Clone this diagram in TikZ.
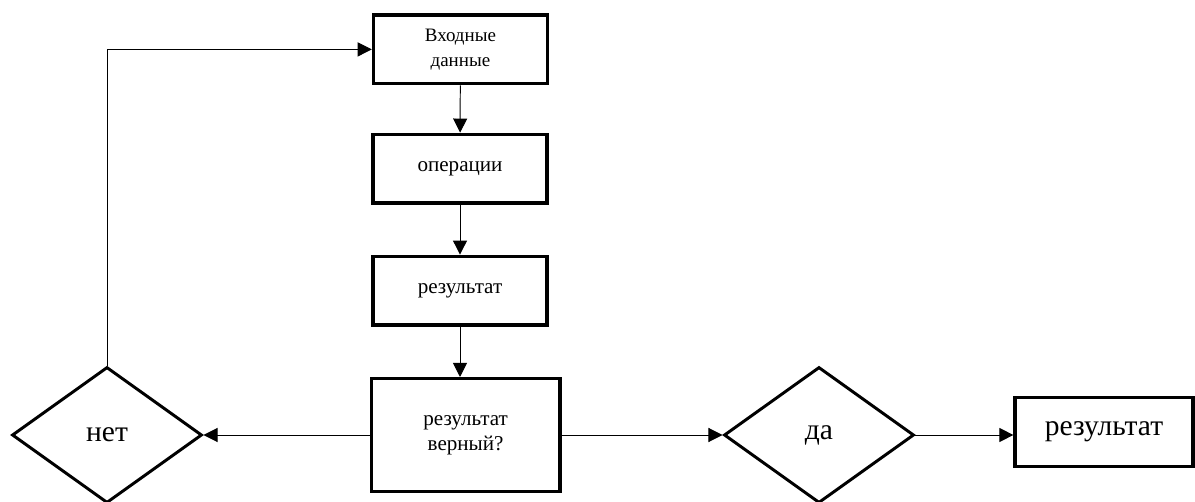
\documentclass[tikz,border=0pt]{standalone}
\usepackage{fontspec}
\setmainfont{Liberation Serif}
\usetikzlibrary{shapes.geometric,arrows.meta}

\begin{document}
\begin{tikzpicture}[
		block/.style={draw,line width=2.3pt,minimum width=4.35cm,minimum height=1.72cm,align=center,inner sep=2pt,font=\fontsize{15}{18}\selectfont},
		decision/.style={draw,diamond,line width=2.1pt,minimum width=4.75cm,minimum height=3.4cm,inner sep=0pt,font=\fontsize{21}{25}\selectfont},
		link/.style={line width=0.7pt,-{Triangle[length=10pt,width=10pt]}}]
		\useasboundingbox (0,0) rectangle (29.875,12.525);
		\node[block,font=\fontsize{13.5}{18}\selectfont] (input) at (11.51,11.29) {Входные\\данные};
		\node[block] (ops) at (11.5,8.31) {операции};
		\node[block] (res) at (11.5,5.26) {результат};
		\node[block,minimum width=4.72cm,minimum height=2.82cm] (check) at (11.64,1.65) {результат\\верный?};
		\node[decision] (no) at (2.675,1.65) {нет};
		\node[decision] (yes) at (20.475,1.65) {да};
		\node[block,minimum width=4.45cm,font=\fontsize{21}{25}\selectfont] (final) at (27.6,1.72) {результат};
		\draw[link] (input) -- (ops);
		\draw[link] (ops) -- (res);
		\draw[link] (res.south) -- (res.south |- check.north);
		\draw[link] (check) -- (no);
		\draw[link] (check) -- (yes);
		\draw[link] (yes.east) -- (final.west |- yes.east);
		\draw[link] (no.north) |- (input.west);
	\end{tikzpicture}
\end{document}
